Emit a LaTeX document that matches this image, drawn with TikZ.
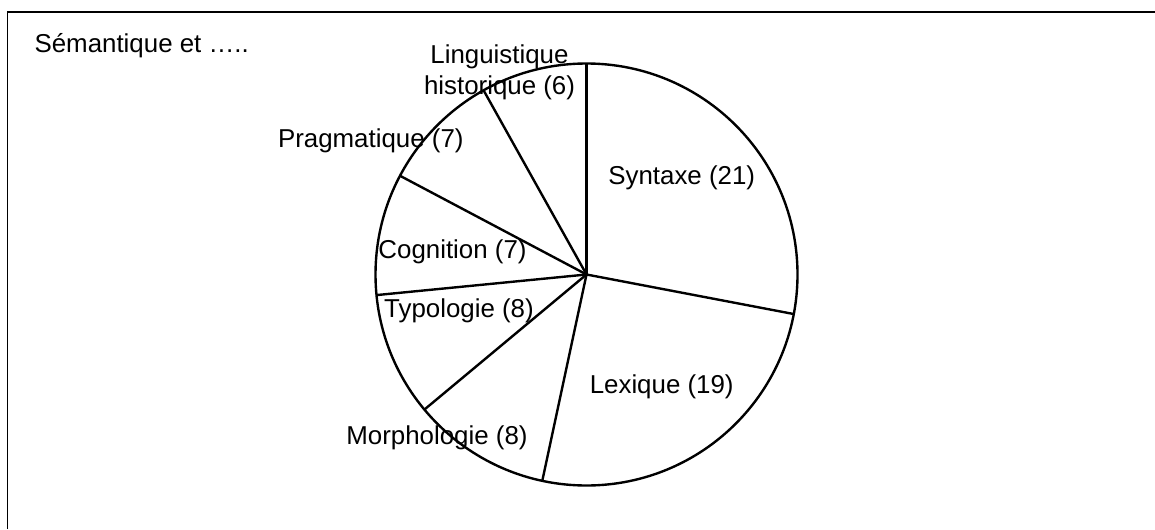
\documentclass[tikz,border=0pt]{standalone}
\usepackage{fontspec}
\setmainfont{Liberation Sans}

\tikzset{
    slicetext/.style={inner sep=0pt, align=center},
    pieline/.style={line width=1.7pt},
}

\begin{document}
\begin{tikzpicture}[x=0.025cm, y=0.025cm, font=\fontsize{18.4}{22}\selectfont]

    % constants
    \def\cx{586.5}
    \def\cy{254.5}
    \def\rad{211}

    \useasboundingbox (0,0) rectangle (1155,529);

    % frame, top and left edges only
    \draw [line width=1.3pt] (7.5,0) -- (7.5,517) -- (1155,517);
    \node [slicetext, anchor=west] (title) at (34.3,483.3) {Sémantique et …..};

    % pie
    \coordinate (O) at (\cx,\cy);
    \draw [pieline,fill=white] (O) circle [radius=\rad];
    \draw [pieline] (O) -- ++(90:\rad);
    \draw [pieline] (O) -- ++(-10.8:\rad);
    \draw [pieline] (O) -- ++(-102.1:\rad);
    \draw [pieline] (O) -- ++(-140.2:\rad);
    \draw [pieline] (O) -- ++(-174.4:\rad);
    \draw [pieline] (O) -- ++(152.1:\rad);
    \draw [pieline] (O) -- ++(119.2:\rad);

    % slice labels
    \node [slicetext] (syntaxe) at (681.7,351.3) {Syntaxe (21)};
    \node [slicetext] (lexique) at (661.7,142) {Lexique (19)};
    \node [slicetext] (morphologie) at (437,91) {Morphologie (8)};
    \node [slicetext] (typologie) at (459,218) {Typologie (8)};
    \node [slicetext] (cognition) at (452.5,277) {Cognition (7)};
    \node [slicetext] (pragmatique) at (370.8,388) {Pragmatique (7)};
    \node [slicetext] (linguistique) at (499.5,457) {Linguistique\\historique (6)};

\end{tikzpicture}
\end{document}
